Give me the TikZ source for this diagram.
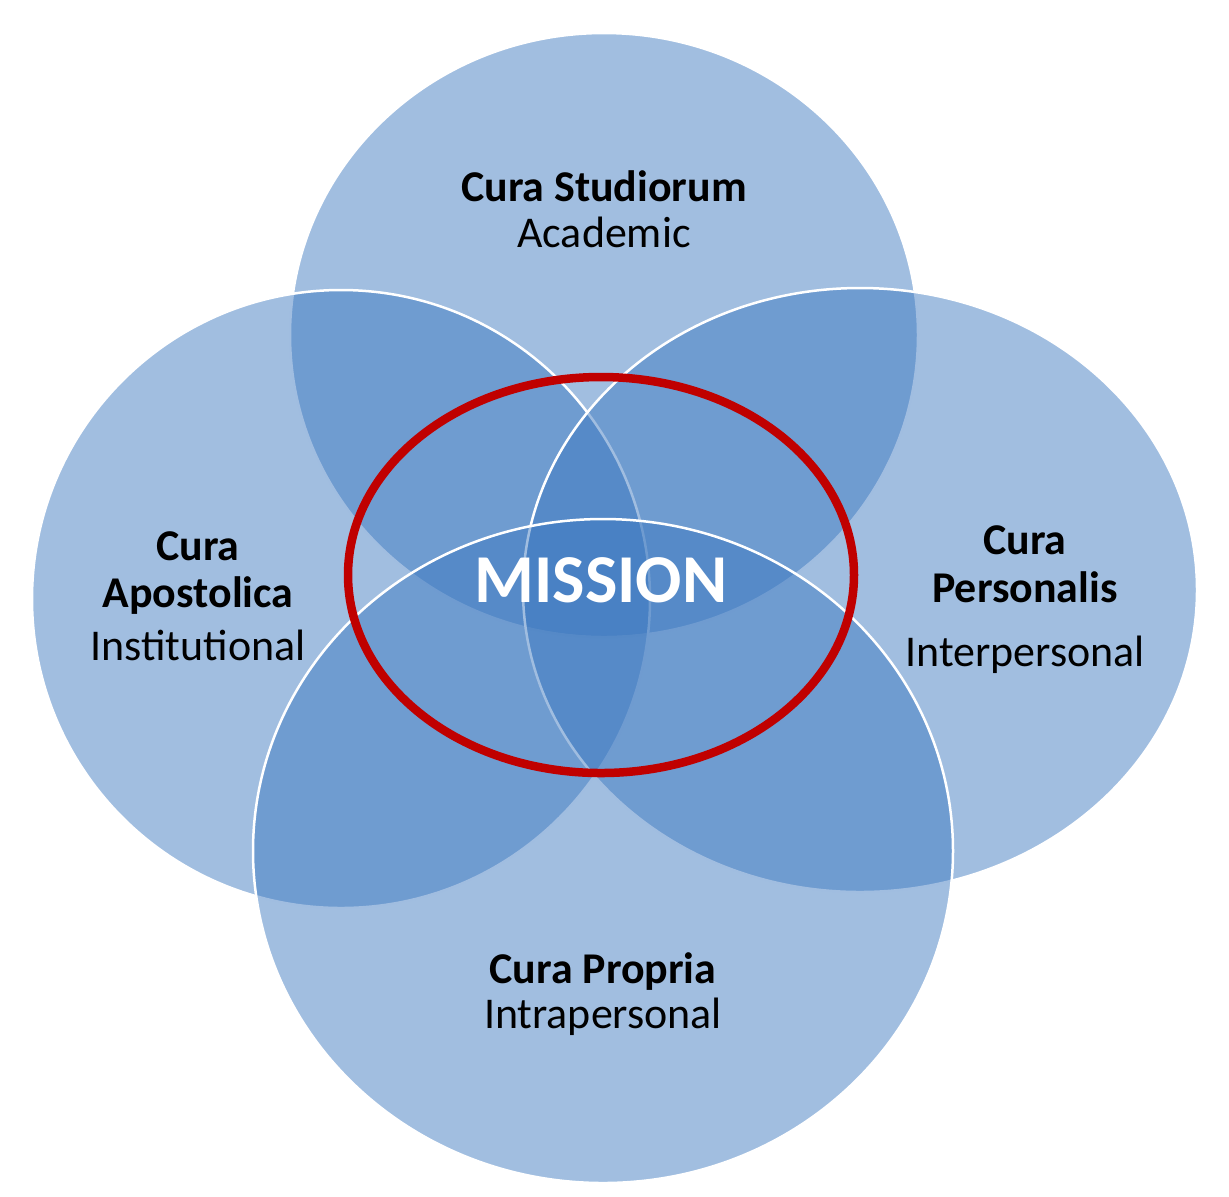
\documentclass[tikz,border=0pt]{standalone}
\usepackage{fontspec}
\setmainfont{Carlito}
\definecolor{curablue}{RGB}{58,119,191}
\definecolor{missionred}{RGB}{192,0,0}
\begin{document}
\begin{tikzpicture}[x=0.1mm,y=-0.1mm,
    cura/.style={fill=curablue,fill opacity=0.48,draw=white,line width=0.25mm},
    title/.style={font={\fontsize{12.5pt}{13.6pt}\selectfont\bfseries},align=center},
    sub/.style={font={\fontsize{12.5pt}{13.6pt}\selectfont}},
    ]
    \useasboundingbox (0,0) rectangle (1229,1196);
    % Circles
    \draw[cura] (604,335) ellipse [x radius=31.4mm,y radius=30.2mm];
    \draw[cura] (341,599) ellipse [x radius=30.9mm,y radius=30.9mm];
    \draw[cura] (860,590) ellipse [x radius=33.7mm,y radius=30.2mm];
    \draw[cura] (603,851) ellipse [x radius=35mm,y radius=33.2mm];
    % Mission ellipse
    \draw[missionred,line width=0.85mm] (601,575) ellipse [x radius=25.3mm,y radius=19.8mm];
    \node[text=white,font={\fontsize{19.5pt}{22pt}\selectfont\bfseries}] (mission) at (601,580) {MISSION};
    % Labels
    \node[title] (studiorum) at (604,186) {Cura Studiorum};
    \node[sub] (academic) at (604,232) {Academic};
    \node[title] (apostolica) at (198,573) {Cura\\Apostolica};
    \node[sub] (institutional) at (198,645) {Institutional};
    \node[title] (personalis) at (1025,564) {Cura\\Personalis};
    \node[sub] (interpersonal) at (1025,655) {Interpersonal};
    \node[title] (propria) at (603,972) {Cura Propria};
    \node[sub] (intrapersonal) at (603,1017) {Intrapersonal};
\end{tikzpicture}
\end{document}
